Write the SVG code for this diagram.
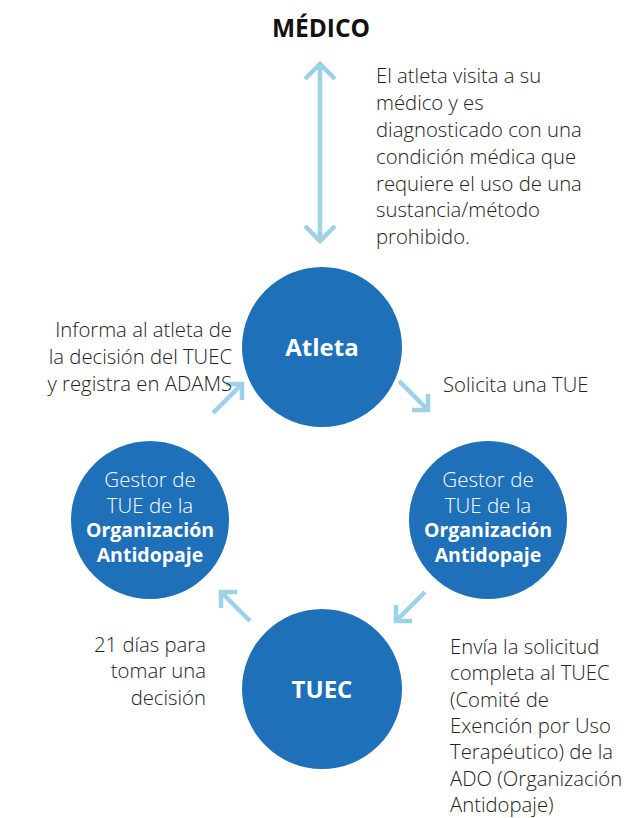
<svg xmlns="http://www.w3.org/2000/svg" width="630" height="818" viewBox="0 0 630 818">
<style>
.node{fill:#1e70b8}
.lbl{font-family:"Open Sans","Noto Sans",sans-serif;font-size:20.3px;fill:#222;font-weight:300}
.nt{font-family:"Open Sans","Noto Sans",sans-serif;fill:#fff;text-anchor:middle}
.lt{font-size:20.5px;font-weight:300}
.bd{font-size:19.5px;font-weight:700}
.arr{stroke:#9fd0e9;stroke-width:4.5;fill:none}
</style>
<rect width="630" height="818" fill="#fff"/>
<text x="321" y="37" text-anchor="middle" style="font-family:'Open Sans','Noto Sans',sans-serif;font-size:24.5px;font-weight:700;fill:#111">MÉDICO</text>
<g id="connectors">
<path class="arr" d="M320 64 V241 M305 79 L320 64 L335 79 M305 226 L320 241 L335 226"/>
<path class="arr" d="M213 413 L242 384 M226 384 H242 V400"/>
<path class="arr" d="M399 381 L428 410 M428 394 V410 H412"/>
<path class="arr" d="M425 592 L396 621 M396 605 V621 H412"/>
<path class="arr" d="M250 621 L221 592 M221 608 V592 H237"/>
</g>
<g id="atleta">
<circle class="node" cx="322" cy="347" r="80"/>
<text class="nt" x="322" y="356" font-size="24" font-weight="700">Atleta</text>
</g>
<g id="gestor-derecha">
<circle class="node" cx="488" cy="520" r="79"/>
<text class="nt lt" x="488" y="487">Gestor de</text>
<text class="nt lt" x="488" y="512.5">TUE de la</text>
<text class="nt bd" x="488" y="537">Organización</text>
<text class="nt bd" x="488" y="561.5">Antidopaje</text>
</g>
<g id="gestor-izquierda">
<circle class="node" cx="150" cy="520" r="79"/>
<text class="nt lt" x="150" y="487">Gestor de</text>
<text class="nt lt" x="150" y="512.5">TUE de la</text>
<text class="nt bd" x="150" y="537">Organización</text>
<text class="nt bd" x="150" y="561.5">Antidopaje</text>
</g>
<g id="tuec">
<circle class="node" cx="322" cy="689" r="80"/>
<text class="nt" x="322" y="698" font-size="24" font-weight="700">TUEC</text>
</g>
<g id="labels">
<text class="lbl" x="376" y="83">El atleta visita a su</text>
<text class="lbl" x="376" y="110">médico y es</text>
<text class="lbl" x="376" y="137">diagnosticado con una</text>
<text class="lbl" x="376" y="164">condición médica que</text>
<text class="lbl" x="376" y="191">requiere el uso de una</text>
<text class="lbl" x="376" y="217">sustancia/método</text>
<text class="lbl" x="376" y="244">prohibido.</text>
<text class="lbl" x="232" y="337" text-anchor="end">Informa al atleta de</text>
<text class="lbl" x="232" y="364" text-anchor="end">la decisión del TUEC</text>
<text class="lbl" x="232" y="391" text-anchor="end">y registra en ADAMS</text>
<text class="lbl" x="443" y="392">Solicita una TUE</text>
<text class="lbl" x="206" y="652" text-anchor="end">21 días para</text>
<text class="lbl" x="206" y="678" text-anchor="end">tomar una</text>
<text class="lbl" x="206" y="705" text-anchor="end">decisión</text>
<text class="lbl" x="450" y="654">Envía la solicitud</text>
<text class="lbl" x="450" y="680">completa al TUEC</text>
<text class="lbl" x="450" y="707">(Comité de</text>
<text class="lbl" x="450" y="733">Exención por Uso</text>
<text class="lbl" x="450" y="759">Terapéutico) de la</text>
<text class="lbl" x="450" y="786">ADO (Organización</text>
<text class="lbl" x="450" y="812">Antidopaje)</text>
</g>
</svg>
